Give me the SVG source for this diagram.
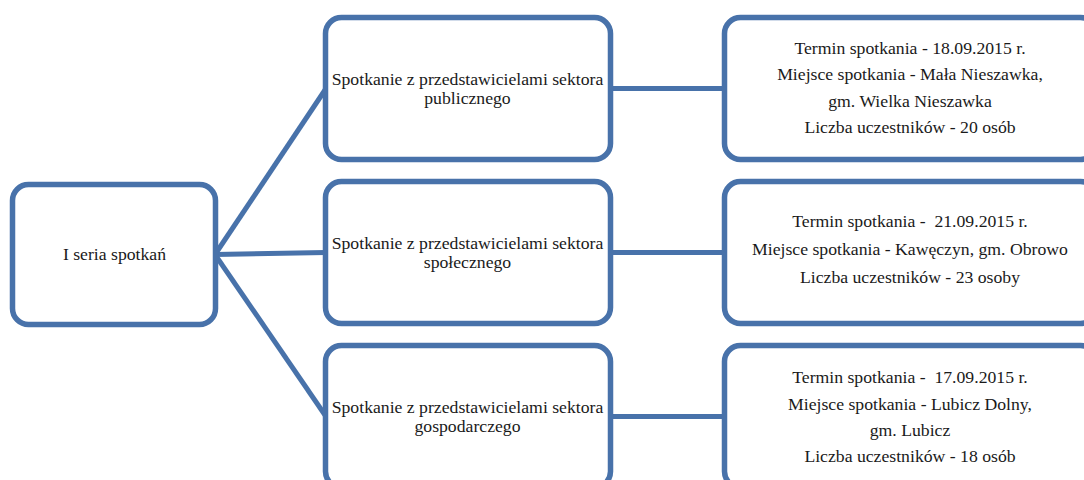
<svg xmlns="http://www.w3.org/2000/svg" width="1084" height="480" viewBox="0 0 1084 480">
<style>
.box{fill:#fff;stroke:#4872aa;stroke-width:5.5}
.con{stroke:#4872aa;stroke-width:5;fill:none}
.t{font-family:'Liberation Serif','Times New Roman',serif;font-size:17.7px;fill:#1a1a1a;text-anchor:middle}
</style>
<rect width="1084" height="480" fill="#fff"/>
<g id="connectors">
<line class="con" x1="215" y1="254.5" x2="326" y2="88.5"/>
<line class="con" x1="215" y1="254.5" x2="326" y2="252.5"/>
<line class="con" x1="215" y1="254.5" x2="326" y2="416.5"/>
<line class="con" x1="610" y1="88.5" x2="725" y2="88.5"/>
<line class="con" x1="610" y1="252.5" x2="725" y2="252.5"/>
<line class="con" x1="610" y1="416.5" x2="725" y2="416.5"/>
</g>
<g id="root" class="t">
<rect class="box" x="12.5" y="184.5" width="203" height="140" rx="16"/>
<text x="114.5" y="260">I seria spotkań</text>
</g>
<g id="mid1" class="t">
<rect class="box" x="325.5" y="17.5" width="285" height="142" rx="16"/>
<text x="467.5" y="85">Spotkanie z przedstawicielami sektora</text>
<text x="467.5" y="103.5">publicznego</text>
</g>
<g id="mid2" class="t">
<rect class="box" x="325.5" y="181.5" width="285" height="142" rx="16"/>
<text x="467.5" y="249">Spotkanie z przedstawicielami sektora</text>
<text x="467.5" y="267.5">społecznego</text>
</g>
<g id="mid3" class="t">
<rect class="box" x="325.5" y="345.5" width="285" height="142" rx="16"/>
<text x="467.5" y="413">Spotkanie z przedstawicielami sektora</text>
<text x="467.5" y="431.5">gospodarczego</text>
</g>
<g id="det1" class="t">
<rect class="box" x="724.5" y="17.5" width="372" height="142" rx="16"/>
<text x="910" y="54">Termin spotkania - 18.09.2015 r.</text>
<text x="910" y="80">Miejsce spotkania - Mała Nieszawka,</text>
<text x="910" y="106.5">gm. Wielka Nieszawka</text>
<text x="910" y="132.5">Liczba uczestników - 20 osób</text>
</g>
<g id="det2" class="t">
<rect class="box" x="724.5" y="181.5" width="372" height="142" rx="16"/>
<text x="910" y="227" xml:space="preserve" style="white-space:pre">Termin spotkania -  21.09.2015 r.</text>
<text x="910" y="255">Miejsce spotkania - Kawęczyn, gm. Obrowo</text>
<text x="910" y="283">Liczba uczestników - 23 osoby</text>
</g>
<g id="det3" class="t">
<rect class="box" x="724.5" y="345.5" width="372" height="142" rx="16"/>
<text x="910" y="383" xml:space="preserve" style="white-space:pre">Termin spotkania -  17.09.2015 r.</text>
<text x="910" y="409.5">Miejsce spotkania - Lubicz Dolny,</text>
<text x="910" y="435.5">gm. Lubicz</text>
<text x="910" y="461.5">Liczba uczestników - 18 osób</text>
</g>
</svg>
